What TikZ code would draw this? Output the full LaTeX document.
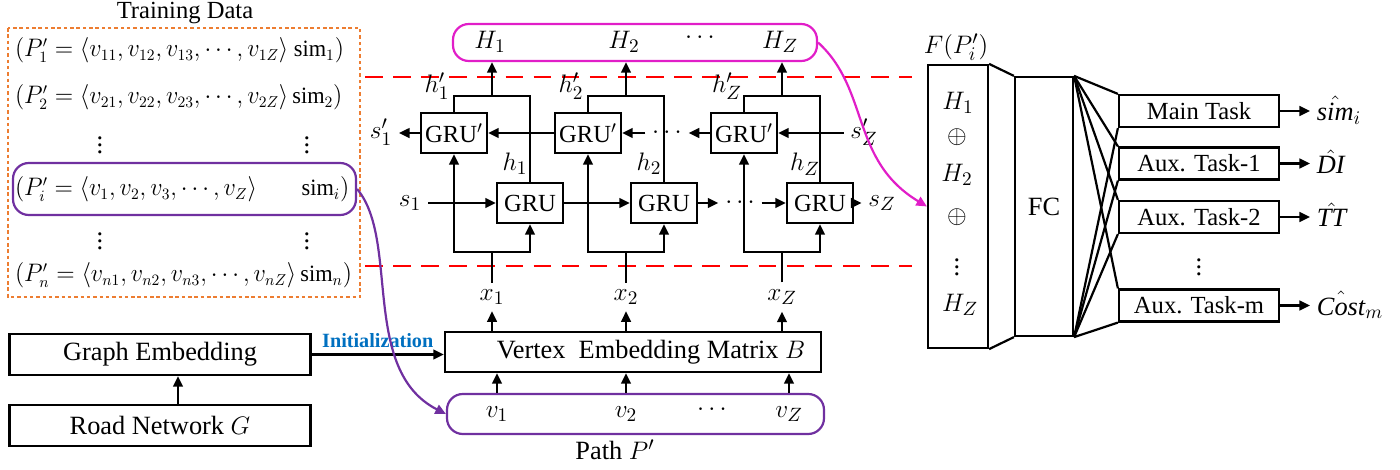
\documentclass[tikz,border=0pt]{standalone}
\usepackage{fontspec}
\setmainfont{Liberation Serif}
\usetikzlibrary{arrows.meta}
\definecolor{magbox}{RGB}{225,30,200}
\definecolor{purpbox}{RGB}{112,48,160}
\definecolor{dataor}{RGB}{237,125,49}
\definecolor{initblue}{RGB}{0,112,192}

\begin{document}
\begin{tikzpicture}[x=0.02cm, y=-0.02cm, >={Triangle[length=6pt,width=5.5pt]}, line width=1.25pt,
  font=\fontsize{15}{18}\selectfont,
  wh/.style 2 args={minimum width=#1*0.02cm, minimum height=#2*0.02cm},
  box/.style={draw, inner sep=0pt},
  gru/.style={box, wh={66}{40}, font=\fontsize{14}{16}\selectfont},
  task/.style={box, wh={160}{32}, font=\fontsize{14}{16}\selectfont},
  rnd/.style={draw=#1, rounded corners=9pt, inner sep=0pt},
  cut/.style={red, dash pattern=on 10pt off 6pt, line width=1.3pt},
  row/.style={anchor=west, inner sep=0pt, font=\fontsize{13.3}{16}\selectfont, transform shape, xscale=0.955}]
  \useasboundingbox (0,0) rectangle (1400,470);

  \node (tdlabel) at (185,13) {\fontsize{14}{16}\selectfont Training Data};
  \draw[dataor, dash pattern=on 2pt off 1.6pt, line width=1.2pt] (8,28) rectangle (360,297);
  \node[row] (r1) at (14,50) {$\bigl(P'_1=\bigl\langle v_{11},v_{12},v_{13},\cdots,v_{1Z}\bigr\rangle\ \mathrm{sim}_1\bigr)$};
  \node[row] (r2) at (14,97) {$\bigl(P'_2=\bigl\langle v_{21},v_{22},v_{23},\cdots,v_{2Z}\bigr\rangle\,\mathrm{sim}_2\bigr)$};
  \node[row] (ri) at (14,189) {$\bigl(P'_i=\bigl\langle v_1,v_2,v_3,\cdots,v_Z\bigr\rangle\hspace{2em}\mathrm{sim}_i\bigr)$};
  \node[row] (rn) at (14,275) {$\bigl(P'_n=\bigl\langle v_{n1},v_{n2},v_{n3},\cdots,v_{nZ}\bigr\rangle\,\mathrm{sim}_n\bigr)$};
  \node (vd1) at (100,140) {$\vdots$};
  \node (vd2) at (307,140) {$\vdots$};
  \node (vd3) at (100,236) {$\vdots$};
  \node (vd4) at (307,236) {$\vdots$};
  \node[rnd=purpbox, wh={343}{52}] (rowbox) at (184.5,189) {};

  \draw[cut] (365,77) -- (912,77);
  \draw[cut] (365,266) -- (912,266);
  \node[rnd=magbox, wh={364}{37}] (hbox) at (635,42.5) {};
  \node (hdots) at (700,38) {$\cdots$};

  \foreach \i/\c/\s in {1/454/1, 2/588/2, 3/744/Z} {
    \node[gru] (gp\i) at (\c,133) {GRU$'$};
    \node[gru] (g\i) at (\c+76,203) {GRU};
    \node (x\i) at (\c+38,297) {$x_{\s}$};
    \node (H\i) at (\c+36,42) {$H_{\s}$};
    \node[inner sep=1pt] (hp\i) at (\c-17,86) {$h'_{\s}$};
    \node[inner sep=1pt] (h\i) at (\c+61,164) {$h_{\s}$};
    \coordinate (top\i) at (\c+38,96);
    \coordinate (bot\i) at (\c+38,252);
    \draw (x\i) -- (bot\i);
    \draw[->] (bot\i) -| (gp\i);
    \draw[->] (bot\i) -| (g\i);
    \draw (gp\i) |- (top\i) -| (g\i);
    \draw[->] (top\i) -- (top\i |- hbox.south);
  }

  \node (s1) at (410,203) {$s_1$};
  \node (sZ) at (882,203) {$s_Z$};
  \node (s1p) at (381,132) {$s'_1$};
  \node (sZp) at (864,132) {$s'_Z$};
  \node (gdots) at (740,203) {$\cdots$};
  \node (gpdots) at (667,133) {$\cdots$};
  \draw[->] (s1.east |- g1) -- (g1);
  \draw[->] (g1) -- (g2);
  \draw[->] (g2) -- (gdots);
  \draw[->] (gdots) -- (g3);
  \draw[->] (g3) -- (sZ.west |- g3);
  \draw[->] (sZp.west |- gp3) -- (gp3);
  \draw[->] (gp3) -- (gpdots);
  \draw[->] (gpdots) -- (gp2);
  \draw[->] (gp2) -- (gp1);
  \draw[->] (gp1) -- (s1p.east |- gp1);

  \node[box, wh={301}{41}] (ge) at (160,354.5) {Graph Embedding};
  \node[box, wh={301}{41}] (road) at (160,425.5) {Road Network $G$};
  \draw[->] ([xshift=0.36cm]road.north) -- ([xshift=0.36cm]ge.south);
  \node[box, wh={376}{40}] (vem) at (633,352) {\hspace{0.72cm}Vertex\ \ Embedding Matrix $B$};
  \draw[->] (ge) -- node[above, font=\fontsize{11.5}{13}\selectfont\bfseries, text=initblue] (initlbl) {Initialization} (ge.east -| vem.west);
  \node[rnd=purpbox, wh={377}{40}] (path) at (635.5,414) {};
  \node (v1) at (497,414) {$v_1$};
  \node (v2) at (626,414) {$v_2$};
  \node (pdots) at (712,410) {$\cdots$};
  \node (v3) at (789,414) {$v_Z$};
  \node (pathlbl) at (615,450) {Path $P'$};
  \foreach \i in {1,2,3} {
    \draw[->] (v\i |- path.north) -- (v\i |- vem.south);
    \draw[->] (x\i |- vem.north) -- (x\i);
  }
  \draw[purpbox, ->] (rowbox.east) .. controls (400,240) and (360,370) .. (path.west);

  \node[box, wh={60}{283}] (F) at (958,206.5) {};
  \node (Flbl) at (956,47) {$F(P'_i)$};
  \node (FH1) at (958,103) {$H_1$};
  \node (Fo1) at (957,137) {$\oplus$};
  \node (FH2) at (957,175) {$H_2$};
  \node (Fo2) at (957,217) {$\oplus$};
  \node (Fvd) at (957,262) {$\vdots$};
  \node (FHZ) at (960,305) {$H_Z$};
  \draw[magbox, ->] (hbox.east) .. controls (870,90) and (850,160) .. (F.west);
  \node[box, wh={58}{259}] (fc) at (1044,206.5) {FC};
  \draw (F.north east) -- (fc.north west);
  \draw (F.south east) -- (fc.south west);
  \node[task] (t1) at (1199,111) {Main Task};
  \node[task] (t2) at (1199,163.5) {Aux. Task-1};
  \node[task] (t3) at (1199,217) {Aux. Task-2};
  \node[task] (t4) at (1199,305.5) {Aux. Task-m};
  \node (tdots) at (1199,262) {$\vdots$};
  \node[anchor=west] (o1) at (1310,110) {$\hat{\mathit{sim}}_i$};
  \node[anchor=west] (o2) at (1310,162) {$\hat{\mathit{DI}}$};
  \node[anchor=west] (o3) at (1310,215) {$\hat{\mathit{TT}}$};
  \node[anchor=west] (o4) at (1310,305) {$\hat{\mathit{Cost}}_m$};
  \foreach \t in {1,...,4} {
    \draw (fc.north east) -- (t\t.north west);
    \draw (fc.south east) -- (t\t.south west);
    \draw[->] (t\t.east) -- (t\t.east -| o\t.west);
  }
\end{tikzpicture}
\end{document}
